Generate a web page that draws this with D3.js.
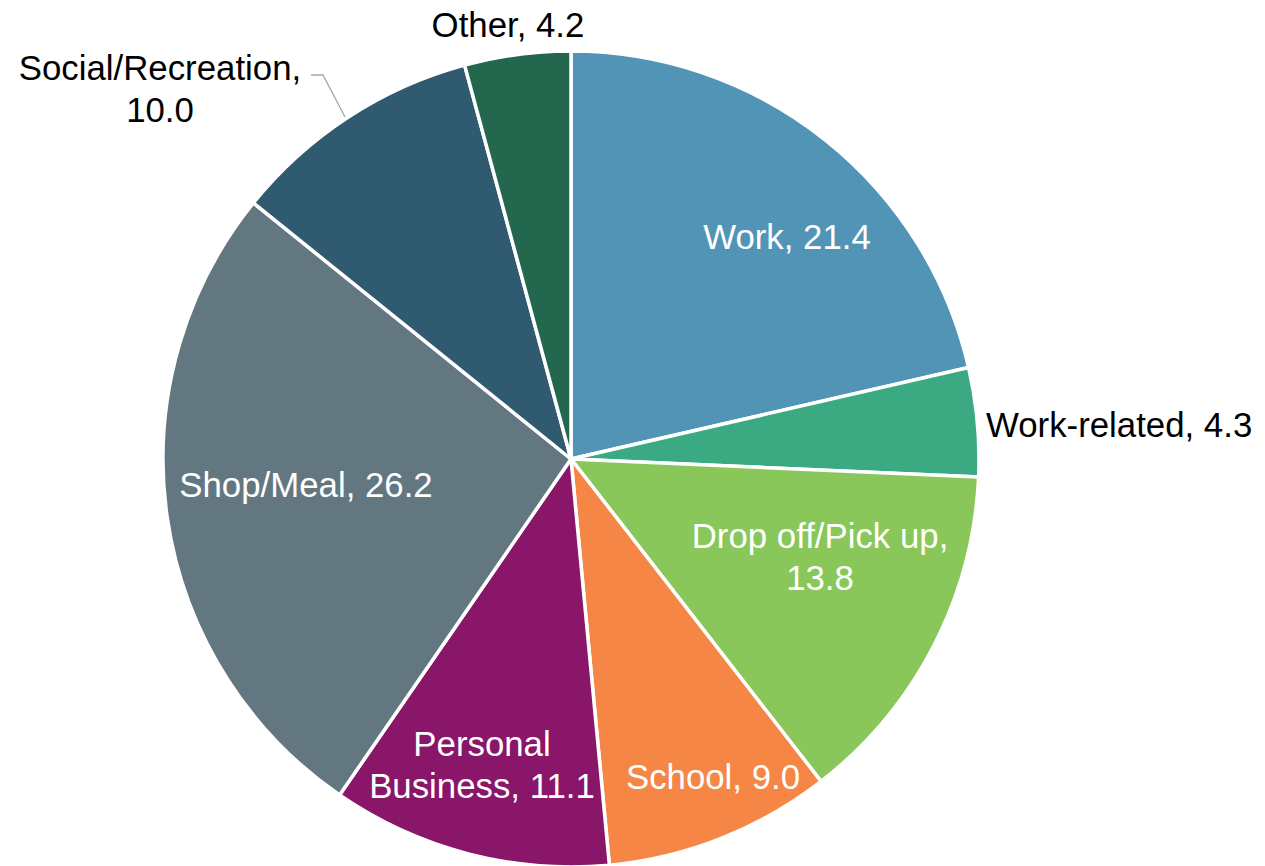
<!DOCTYPE html>
<html><head><meta charset="utf-8">
<script src="https://cdn.jsdelivr.net/npm/d3@7"></script>
<style>body{margin:0;background:#fff}svg{display:block}</style>
</head><body>
<script>
const categories = ["Work","Work-related","Drop off/Pick up","School","Personal Business","Shop/Meal","Social/Recreation","Other"];
const values = [21.4, 4.3, 13.8, 9.0, 11.1, 26.2, 10.0, 4.2];
const colors = ["#5294B6","#3BAA82","#8AC75A","#F58646","#891668","#637781","#2F5A6F","#22674E"];
// label layout: lines, anchor position, fill
const labelLayout = [
  {lines:["Work, 21.4"], x:787, y:249, fill:"#fff", anchor:"middle"},
  {lines:["Work-related, 4.3"], x:986, y:437, fill:"#000", anchor:"start"},
  {lines:["Drop off/Pick up,","13.8"], x:820, y:548, fill:"#fff", anchor:"middle"},
  {lines:["School, 9.0"], x:713, y:789, fill:"#fff", anchor:"middle"},
  {lines:["Personal","Business, 11.1"], x:482, y:756, fill:"#fff", anchor:"middle"},
  {lines:["Shop/Meal, 26.2"], x:306, y:497, fill:"#fff", anchor:"middle"},
  {lines:["Social/Recreation,","10.0"], x:160, y:80, fill:"#000", anchor:"middle"},
  {lines:["Other, 4.2"], x:508, y:37, fill:"#000", anchor:"middle"}
];
const W=1265,H=866, cx=571, cy=459, R=408;
const svg=d3.select("body").append("svg").attr("width",W).attr("height",H);
const data = categories.map((c,i)=>({name:c, value:values[i]}));
const pie=d3.pie().value(d=>d.value).sort(null);
const arc=d3.arc().innerRadius(0).outerRadius(R);
const g=svg.append("g").attr("transform",`translate(${cx},${cy})`);
g.selectAll("path").data(pie(data)).join("path")
  .attr("d",arc).attr("fill",(d,i)=>colors[i])
  .attr("stroke","#fff").attr("stroke-width",3.5).attr("stroke-linejoin","round");
// leader line for Social/Recreation
svg.append("polyline").attr("points","311,75 323,75 345,117")
  .attr("fill","none").attr("stroke","#A6A6A6").attr("stroke-width",1.3);
const font="'Liberation Sans',Arial,sans-serif";
labelLayout.forEach(l=>{
  const t=svg.append("text").attr("x",l.x).attr("y",l.y)
    .attr("text-anchor",l.anchor).attr("fill",l.fill)
    .attr("font-family",font).attr("font-size",34.8);
  l.lines.forEach((s,k)=>{
    t.append("tspan").attr("x",l.x).attr("dy",k?42:0).text(s);
  });
});
</script>
</body></html>
